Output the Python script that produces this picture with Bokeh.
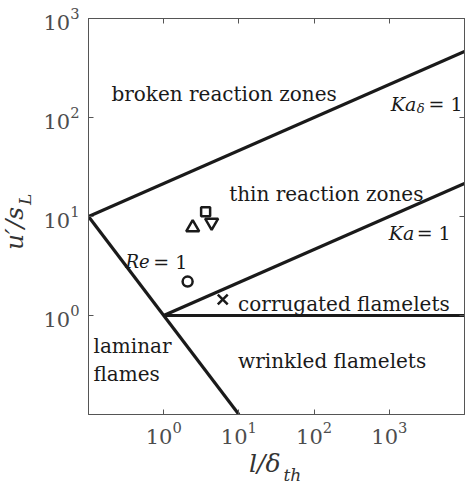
import math
from bokeh.plotting import figure
from bokeh.models import Range1d, FixedTicker, LogAxis, Label, Div
from bokeh.layouts import row, column
from bokeh.embed import file_html
from bokeh.resources import INLINE

# ---- data ----
re_x = [0.1, 10.0]
re_y = [10.0, 0.1]
ka_x = [1.0, 1e4]
ka_y = [1.0, 21.5]
kad_x = [0.1, 1e4]
kad_y = [10.0, 464.0]
flat_x = [1.0, 1e4]
flat_y = [1.0, 1.0]

pt_x = [2.08, 2.43, 3.61, 4.34, 6.1]
pt_y = [2.2, 7.74, 11.2, 8.7, 1.45]
pt_marker = ["circle", "triangle", "square", "inverted_triangle", "x"]
pt_size = [10, 13, 9, 13, 14]

x_ticks = [1, 10, 100, 1000]
y_ticks = [1, 10, 100, 1000]

# ---- layout (page pixels) ----
W, H = 469, 486
YLAB_W = 40          # width of the y-title strip
XLAB_H = 34          # height of the x-title strip
PW, PH = W - YLAB_W, H - XLAB_H
FX0, FX1, FY0, FY1 = 87, 464, 18, 414   # plot frame in page pixels
L, R, T, B = FX0 - YLAB_W, W - FX1, FY0, PH - FY1
FONT = "DejaVu Serif"
AX_COL = "#555555"
TXT_COL = "#4d4d4d"

p = figure(width=PW, height=PH, x_axis_type="log", y_axis_type="log",
           x_range=Range1d(0.1, 1e4), y_range=Range1d(0.1, 1e3),
           output_backend="svg", toolbar_location=None,
           min_border_left=L, min_border_right=R, min_border_top=T, min_border_bottom=B)
p.grid.visible = False
p.outline_line_color = AX_COL
p.background_fill_color = "white"
p.border_fill_color = "white"

for ax in p.xaxis:
    ax.ticker = FixedTicker(ticks=x_ticks)
for ax in p.yaxis:
    ax.ticker = FixedTicker(ticks=y_ticks)
for ax in (p.xaxis[0], p.yaxis[0]):
    ax.major_tick_in = 5
    ax.major_tick_out = 0
    ax.minor_tick_line_color = None
    ax.axis_line_color = AX_COL
    ax.major_tick_line_color = AX_COL
    ax.major_label_text_font = FONT
    ax.major_label_text_color = TXT_COL
    ax.major_label_text_font_size = "21px"
p.xaxis[0].major_label_standoff = 7
p.yaxis[0].major_label_standoff = 9

top = LogAxis(ticker=FixedTicker(ticks=x_ticks))
right = LogAxis(ticker=FixedTicker(ticks=y_ticks))
p.add_layout(top, "above")
p.add_layout(right, "right")
for ax in (top, right):
    ax.major_tick_in = 5
    ax.major_tick_out = 0
    ax.minor_tick_line_color = None
    ax.axis_line_color = AX_COL
    ax.major_tick_line_color = AX_COL
    ax.major_label_text_font_size = "0px"
    ax.major_label_standoff = 0
    ax.major_label_text_color = None

# regime boundaries
for xs, ys in ((re_x, re_y), (ka_x, ka_y), (kad_x, kad_y), (flat_x, flat_y)):
    p.line(xs, ys, line_color="#1a1a1a", line_width=3.2)

# measured points
for x, y, m, s in zip(pt_x, pt_y, pt_marker, pt_size):
    p.scatter([x], [y], marker=m, size=s, fill_color=None,
              line_color="#1a1a1a", line_width=2.5)

# ---- text placement helper (page pixel position -> data) ----
def to_data(px, py):
    return (10 ** (-1 + 5 * (px - FX0) / (FX1 - FX0)),
            10 ** (3 - 4 * (py - FY0) / (FY1 - FY0)))

def put(px, py, txt, size, style="normal", color="#1a1a1a"):
    x, y = to_data(px, py)
    p.add_layout(Label(x=x, y=y, text=txt, text_font=FONT,
                       text_font_size=f"{size}px", text_font_style=style,
                       text_align="left", text_baseline="alphabetic",
                       text_color=color))

put(110, 93, "broken reaction zones", 20)
put(228, 193, "thin reaction zones", 20)
put(237, 303, "corrugated flamelets", 20)
put(237, 360, "wrinkled flamelets", 20)
put(92, 345, "laminar", 20)
put(92, 373, "flames", 20)

put(390, 103, "Ka", 19, "italic")
put(416, 108, "δ", 13, "italic")
put(428, 103, "= 1", 19)

put(388, 232, "Ka", 19, "italic")
put(416, 232, "= 1", 19)

put(124, 261, "Re", 18, "italic")
put(152, 261, "= 1", 19)

# ---- axis titles as HTML strips ----
TSTYLE = ("position:absolute;white-space:nowrap;font-family:'DejaVu Serif';"
          "font-style:italic;font-size:25px;line-height:25px;color:#333333;")
xdiv = Div(width=PW, height=XLAB_H, margin=0, text=(
    f'<div style="position:relative;width:{PW}px;height:{XLAB_H}px;">'
    f'<div style="{TSTYLE}left:{249 - YLAB_W}px;top:{472 - PH - 21}px;">'
    'l/δ<span style="position:relative;top:9px;font-size:17px;margin-left:3px;">th</span>'
    '</div></div>'))
ydiv = Div(width=YLAB_W, height=H, margin=0, text=(
    f'<div style="position:relative;width:{YLAB_W}px;height:{H}px;">'
    f'<div style="{TSTYLE}left:2px;top:250px;transform-origin:0 0;transform:rotate(-90deg);">'
    'u′/s<span style="position:relative;top:8px;font-size:17px;margin-left:2px;">L</span>'
    '</div></div>'))

layout = row(ydiv, column(p, xdiv, spacing=0), spacing=0)
open("out.html", "w").write(file_html(layout, INLINE))
